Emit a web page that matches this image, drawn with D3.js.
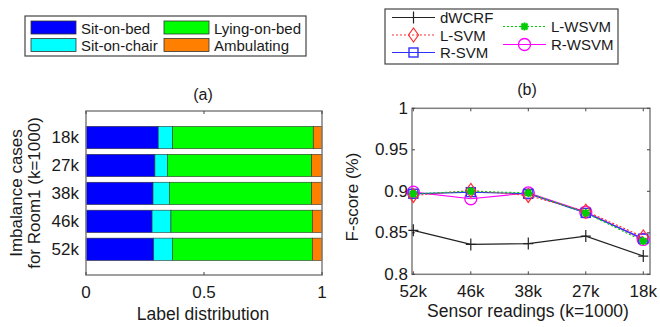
<!DOCTYPE html>
<html>
<head>
<meta charset="utf-8">
<script src="https://cdn.jsdelivr.net/npm/d3@7"></script>
<style>
  body { margin: 0; background: #fff; }
  svg { font-family: "Liberation Sans", Arial, sans-serif; }
  text { fill: #1a1a1a; }
</style>
</head>
<body>
<div id="chart"></div>
<script>
// data (a): label distribution per imbalance case, top row first
const cases = ['18k', '27k', '38k', '46k', '52k'];
const labels = ['Sit-on-bed', 'Sit-on-chair', 'Lying-on-bed', 'Ambulating'];
const sitOnBed = [0.306, 0.292, 0.284, 0.280, 0.287];
const sitOnChair = [0.061, 0.053, 0.069, 0.080, 0.079];
const lyingOnBed = [0.596, 0.611, 0.603, 0.599, 0.593];
const ambulating = [0.037, 0.044, 0.044, 0.041, 0.041];
const barColors = ['#0000ff', '#00ffff', '#00ff00', '#ff8000'];
const distTicks = [0, 0.5, 1];

// data (b): F-score vs sensor readings
const readings = ['52k', '46k', '38k', '27k', '18k'];
const dWCRF = [0.853, 0.836, 0.837, 0.846, 0.822];
const lSVM = [0.895, 0.901, 0.895, 0.876, 0.845];
const rSVM = [0.897, 0.899, 0.897, 0.874, 0.843];
const lWSVM = [0.897, 0.900, 0.898, 0.874, 0.840];
const rWSVM = [0.899, 0.891, 0.898, 0.875, 0.842];
const fTicks = [0.8, 0.85, 0.9, 0.95, 1];

const width = 660, height = 327;
const svg = d3.select('#chart').append('svg')
  .attr('width', width).attr('height', height);

const axisColor = '#808080';

// ---------- (a) stacked bars ----------
const xa = d3.scaleLinear().domain([0, 1]).range([86, 322]);
const ya = d3.scaleLinear().domain([0.08, 5.95]).range([275, 111]);
const barH = ya(0) - ya(0.8);

const rows = cases.map((c, i) => ({
  name: c, pos: cases.length - i,
  vals: [sitOnBed[i], sitOnChair[i], lyingOnBed[i], ambulating[i]]
}));

const ga = svg.append('g');

rows.forEach(r => {
  let acc = 0;
  r.vals.forEach((v, k) => {
    ga.append('rect')
      .attr('x', xa(acc))
      .attr('y', ya(r.pos) - barH / 2)
      .attr('width', xa(acc + v) - xa(acc))
      .attr('height', barH)
      .attr('fill', barColors[k])
      .attr('stroke', '#333')
      .attr('stroke-width', 0.6);
    acc += v;
  });
  ga.append('text')
    .attr('x', xa(0) - 7).attr('y', ya(r.pos))
    .attr('text-anchor', 'end').attr('dominant-baseline', 'central')
    .attr('font-size', 17).text(r.name);
});

// axes box
ga.append('rect')
  .attr('x', xa(0)).attr('y', ya(5.95))
  .attr('width', xa(1) - xa(0)).attr('height', ya(0.08) - ya(5.95))
  .attr('fill', 'none').attr('stroke', axisColor).attr('stroke-width', 1.5);

distTicks.forEach(t => {
  ga.append('line').attr('x1', xa(t)).attr('x2', xa(t))
    .attr('y1', ya(0.08)).attr('y2', ya(0.08) - 3).attr('stroke', '#444');
  ga.append('line').attr('x1', xa(t)).attr('x2', xa(t))
    .attr('y1', ya(5.95)).attr('y2', ya(5.95) + 3).attr('stroke', '#444');
  ga.append('text')
    .attr('x', xa(t)).attr('y', 292)
    .attr('text-anchor', 'middle').attr('dominant-baseline', 'central')
    .attr('font-size', 17).text(d3.format('~g')(t));
});

ga.append('text').attr('x', 203).attr('y', 314)
  .attr('text-anchor', 'middle').attr('dominant-baseline', 'central')
  .attr('font-size', 17.5).text('Label distribution');
ga.append('text').attr('x', 203).attr('y', 94)
  .attr('text-anchor', 'middle').attr('dominant-baseline', 'central')
  .attr('font-size', 16).text('(a)');
ga.append('text')
  .attr('transform', 'translate(16,193) rotate(-90)')
  .attr('text-anchor', 'middle').attr('dominant-baseline', 'central')
  .attr('font-size', 17).text('Imbalance cases');
ga.append('text')
  .attr('transform', 'translate(34,193) rotate(-90)')
  .attr('text-anchor', 'middle').attr('dominant-baseline', 'central')
  .attr('font-size', 17).text('for Room1 (k=1000)');

// legend (a): two columns, two rows
const la = svg.append('g');
la.append('rect').attr('x', 25).attr('y', 16).attr('width', 281).attr('height', 40)
  .attr('fill', '#fff').attr('stroke', '#444').attr('stroke-width', 1.2);
labels.forEach((l, k) => {
  const cx = k < 2 ? 31 : 164;
  const cy = k % 2 === 0 ? 21 : 38.5;
  la.append('rect').attr('x', cx).attr('y', cy).attr('width', 45).attr('height', 13)
    .attr('fill', barColors[k]).attr('stroke', '#333').attr('stroke-width', 0.8);
  la.append('text').attr('x', cx + 50).attr('y', cy + 7)
    .attr('dominant-baseline', 'central').attr('font-size', 15).text(l);
});

// ---------- (b) line chart ----------
const xb = d3.scaleLinear().domain([0.977, 5.117]).range([412, 650]);
const yb = d3.scaleLinear().domain([0.8, 1]).range([274.3, 108.3]);
const gb = svg.append('g');

gb.append('rect')
  .attr('x', xb(0.977)).attr('y', yb(1))
  .attr('width', xb(5.117) - xb(0.977)).attr('height', yb(0.8) - yb(1))
  .attr('fill', 'none').attr('stroke', axisColor).attr('stroke-width', 1.5);

fTicks.forEach(t => {
  gb.append('line').attr('x1', xb(0.977)).attr('x2', xb(0.977) + 3)
    .attr('y1', yb(t)).attr('y2', yb(t)).attr('stroke', '#444');
  gb.append('line').attr('x1', xb(5.117)).attr('x2', xb(5.117) - 3)
    .attr('y1', yb(t)).attr('y2', yb(t)).attr('stroke', '#444');
  gb.append('text').attr('x', xb(0.977) - 4).attr('y', yb(t))
    .attr('text-anchor', 'end').attr('dominant-baseline', 'central')
    .attr('font-size', 17).text(d3.format('~g')(t));
});
readings.forEach((r, i) => {
  gb.append('line').attr('x1', xb(i + 1)).attr('x2', xb(i + 1))
    .attr('y1', yb(0.8)).attr('y2', yb(0.8) - 3).attr('stroke', '#444');
  gb.append('line').attr('x1', xb(i + 1)).attr('x2', xb(i + 1))
    .attr('y1', yb(1)).attr('y2', yb(1) + 3).attr('stroke', '#444');
  gb.append('text').attr('x', xb(i + 1)).attr('y', 291)
    .attr('text-anchor', 'middle').attr('dominant-baseline', 'central')
    .attr('font-size', 17).text(r);
});

gb.append('text').attr('x', 528).attr('y', 311)
  .attr('text-anchor', 'middle').attr('dominant-baseline', 'central')
  .attr('font-size', 17.5).text('Sensor readings (k=1000)');
gb.append('text').attr('x', 527).attr('y', 89)
  .attr('text-anchor', 'middle').attr('dominant-baseline', 'central')
  .attr('font-size', 16).text('(b)');
gb.append('text')
  .attr('transform', 'translate(352,197) rotate(-90)')
  .attr('text-anchor', 'middle').attr('dominant-baseline', 'central')
  .attr('font-size', 17).text('F-score (%)');

const series = [
  { name: 'dWCRF', vals: dWCRF, color: '#222', dash: null, marker: 'plus' },
  { name: 'L-SVM', vals: lSVM, color: '#ff3030', dash: '2,2', marker: 'diamond' },
  { name: 'R-SVM', vals: rSVM, color: '#3030ff', dash: null, marker: 'square' },
  { name: 'L-WSVM', vals: lWSVM, color: '#00cc00', dash: '2,2', marker: 'star' },
  { name: 'R-WSVM', vals: rWSVM, color: '#ff00ff', dash: null, marker: 'circle' }
];

function drawMarker(g, type, x, y, color) {
  if (type === 'plus') {
    g.append('path').attr('d', `M${x - 5},${y}H${x + 5}M${x},${y - 6}V${y + 6}`)
      .attr('stroke', color).attr('stroke-width', 1.2).attr('fill', 'none');
  } else if (type === 'diamond') {
    g.append('path').attr('d', `M${x},${y - 7}L${x + 5},${y}L${x},${y + 7}L${x - 5},${y}Z`)
      .attr('stroke', color).attr('stroke-width', 1.2).attr('fill', 'none');
  } else if (type === 'square') {
    g.append('rect').attr('x', x - 4.5).attr('y', y - 4.5).attr('width', 9).attr('height', 9)
      .attr('stroke', color).attr('stroke-width', 1.4).attr('fill', 'none');
  } else if (type === 'star') {
    g.append('path').attr('d', `M${x - 4},${y}H${x + 4}M${x},${y - 4}V${y + 4}M${x - 3},${y - 3}L${x + 3},${y + 3}M${x - 3},${y + 3}L${x + 3},${y - 3}`)
      .attr('stroke', color).attr('stroke-width', 2).attr('fill', 'none');
    g.append('circle').attr('cx', x).attr('cy', y).attr('r', 3).attr('fill', color);
  } else if (type === 'circle') {
    g.append('circle').attr('cx', x).attr('cy', y).attr('r', 6)
      .attr('stroke', color).attr('stroke-width', 1.3).attr('fill', 'none');
  }
}

const line = d3.line().x((d, i) => xb(i + 1)).y(d => yb(d));
const drawOrder = [0, 4, 2, 1, 3];
drawOrder.forEach(k => {
  const s = series[k];
  gb.append('path').attr('d', line(s.vals))
    .attr('fill', 'none').attr('stroke', s.color).attr('stroke-width', 1.2)
    .attr('stroke-dasharray', s.dash);
});
drawOrder.forEach(k => {
  const s = series[k];
  s.vals.forEach((v, i) => drawMarker(gb, s.marker, xb(i + 1), yb(v), s.color));
});

// legend (b)
const lb = svg.append('g');
lb.append('rect').attr('x', 385).attr('y', 9).attr('width', 233).attr('height', 55)
  .attr('fill', '#fff').attr('stroke', '#444').attr('stroke-width', 1.2);
const legPos = [
  { x: 392, y: 17.5 }, { x: 392, y: 35 }, { x: 392, y: 52.5 },
  { x: 503, y: 26.5 }, { x: 503, y: 44.5 }
];
series.forEach((s, k) => {
  const p = legPos[k];
  lb.append('line').attr('x1', p.x).attr('x2', p.x + 43).attr('y1', p.y).attr('y2', p.y)
    .attr('stroke', s.color).attr('stroke-width', 1).attr('stroke-dasharray', s.dash);
  drawMarker(lb, s.marker, p.x + 21.5, p.y, s.color);
  lb.append('text').attr('x', p.x + 48).attr('y', p.y)
    .attr('dominant-baseline', 'central').attr('font-size', 15).text(s.name);
});
</script>
</body>
</html>
